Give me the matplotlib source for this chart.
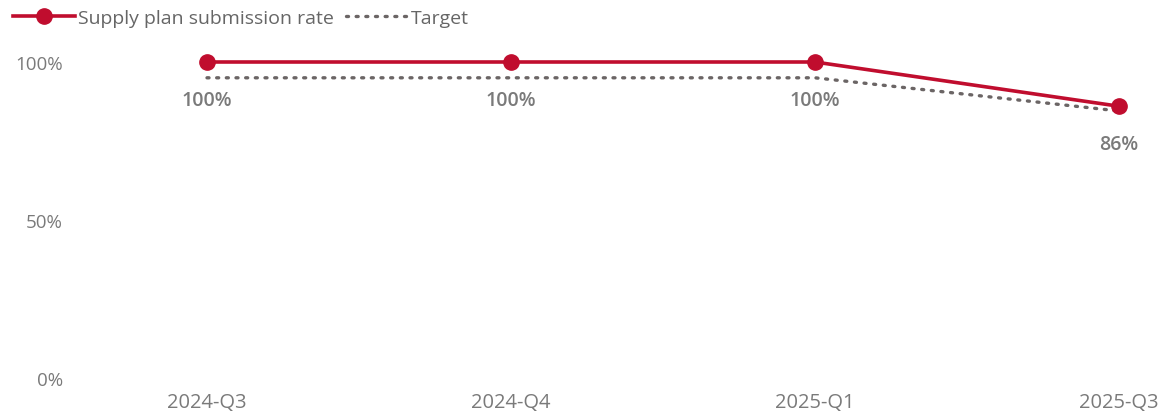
import matplotlib.pyplot as plt
import numpy as np

quarters = ["2024-Q3", "2024-Q4", "2025-Q1", "2025-Q3"]
submission_rate = [100, 100, 100, 86]
target = [95, 95, 95, 84.5]
value_labels = ["100%", "100%", "100%", "86%"]

plt.rcParams['font.family'] = ['Open Sans', 'DejaVu Sans']

red = "#C00D2E"
grey_text = "#7A7A7A"

fig = plt.figure(figsize=(11.63, 4.14), dpi=100)
W, H = 1163, 414
# axes placed in pixel terms
left_px, right_px = 70, 1163
ax = fig.add_axes([left_px / W, (H - 379) / H, (right_px - left_px) / W, (379 - 40) / H])

x = np.arange(len(quarters))
ax.plot(x, target, linestyle=(0, (0.6, 2.3)), color="#6B6565", linewidth=2.4,
        dash_capstyle="round", label="Target", zorder=2)
ax.plot(x, submission_rate, color=red, linewidth=2.6, marker="o", markersize=11,
        label="Supply plan submission rate", zorder=3)

for xi, yi, lab in zip(x, submission_rate, value_labels):
    ax.annotate(lab, (xi, yi), xytext=(0, -27), textcoords="offset points",
                ha="center", va="center", fontsize=14, fontweight="semibold",
                color=grey_text)

ax.set_xlim(-(207 - left_px) / 304, 3 + (right_px - 1119) / 304)
ax.set_ylim(0, (379 - 40) / 3.16)
ax.set_yticks([0, 50, 100])
ax.set_yticklabels(["0%", "50%", "100%"])
ax.set_xticks(x)
ax.set_xticklabels(quarters)
ax.tick_params(axis="both", length=0, labelcolor=grey_text)
ax.tick_params(axis="x", pad=10, labelsize=14.5)
ax.tick_params(axis="y", pad=5, labelsize=13.5)
for s in ax.spines.values():
    s.set_visible(False)

handles, labels = ax.get_legend_handles_labels()
fig.legend(handles[::-1], labels[::-1], loc="center left", bbox_to_anchor=(7 / W, 1 - 19 / H),
           ncol=2, frameon=False, fontsize=14, labelcolor="#666666",
           handlelength=3.2, handletextpad=0.15, columnspacing=0.6, borderaxespad=0.0,
           borderpad=0.3)

fig.savefig("out.png", dpi=100)
